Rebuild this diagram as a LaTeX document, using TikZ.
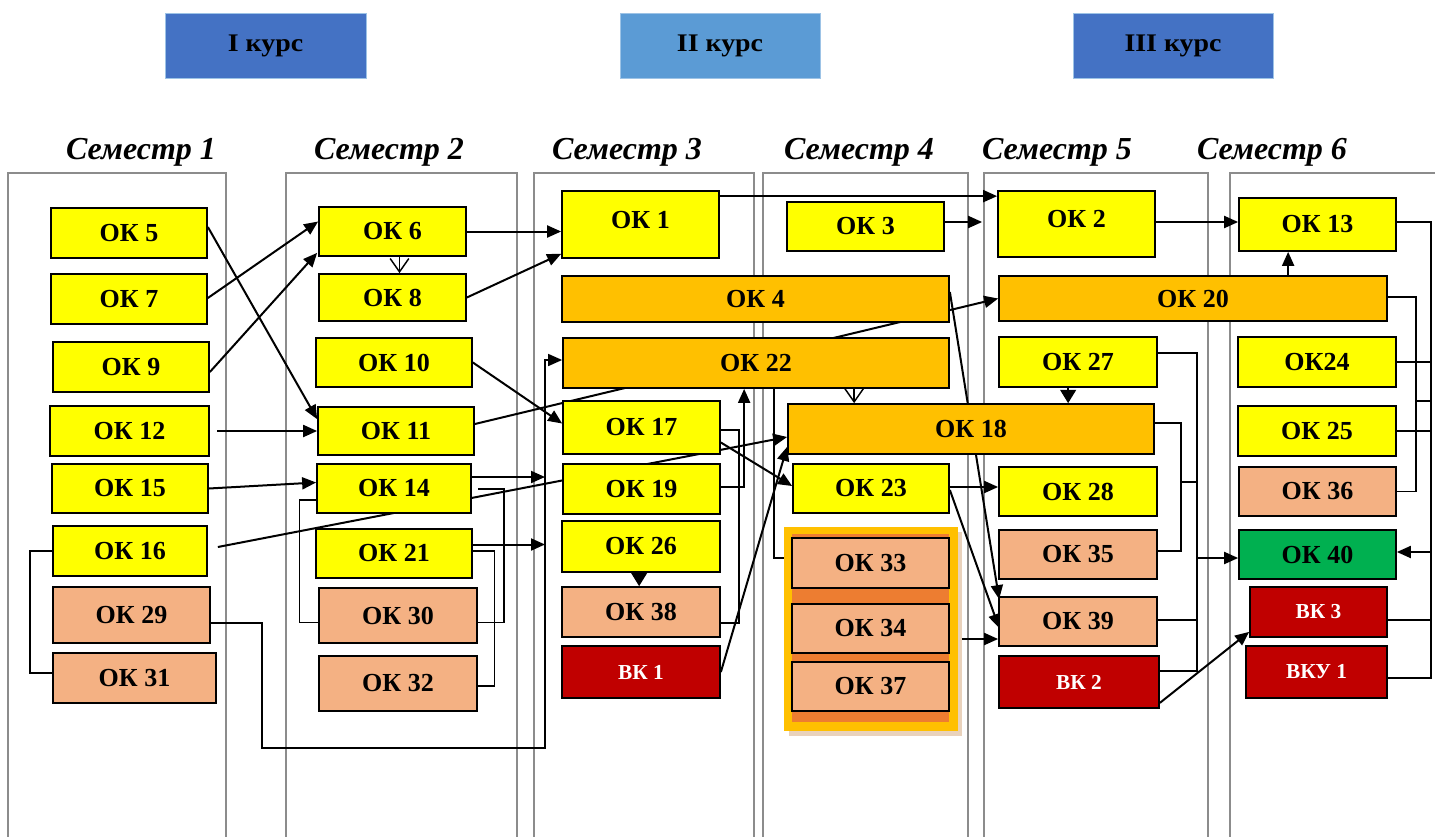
\documentclass[tikz,border=0pt]{standalone}
\usepackage{fontspec}
\setmainfont{Liberation Serif}
\usetikzlibrary{arrows.meta,calc}

\definecolor{okyellow}{RGB}{255,255,0}
\definecolor{okorange}{RGB}{255,192,0}
\definecolor{oksalmon}{RGB}{244,177,131}
\definecolor{vkred}{RGB}{192,0,0}
\definecolor{okgreen}{RGB}{0,176,80}
\definecolor{kursblue}{RGB}{68,114,196}
\definecolor{kurslight}{RGB}{91,155,213}
\definecolor{frameorange}{RGB}{237,125,49}
\definecolor{semgray}{RGB}{140,140,140}

\pgfdeclarelayer{bg}
\pgfsetlayers{bg,main}

\tikzset{sz/.style 2 args={minimum width=#1*0.75pt,minimum height=#2*0.75pt}}

\begin{document}
\begin{tikzpicture}[x=0.75pt,y=0.75pt,yscale=-1,xscale=1,
  box/.style={draw=black,line width=1.3pt,inner sep=0pt,font=\fontsize{19.5}{20}\selectfont\bfseries},
  ok/.style={box,fill=okyellow},
  okc/.style={box,fill=okorange},
  oks/.style={box,fill=oksalmon},
  okg/.style={box,fill=okgreen},
  vk/.style={box,fill=vkred,text=white,font=\fontsize{16}{17}\selectfont\bfseries},
  thickbox/.style={line width=2.2pt},
  kurs/.style={inner sep=0pt,draw=kurslight!60!white,line width=0.6pt,font=\fontsize{19}{20}\selectfont\bfseries},
  semtitle/.style={inner sep=0pt,font=\fontsize{24}{25}\selectfont\bfseries\itshape},
  semcol/.style={draw=semgray,line width=1.8pt},
  arr/.style={line width=1.5pt,-{Triangle[length=10.5pt,width=9pt]}},
  arrs/.style={line width=1pt,-{Triangle[length=10pt,width=12pt]}},
  barb/.style={line width=1.1pt,-{Straight Barb[length=10pt,width=14pt]}},
  lnk/.style={line width=1.2pt}]
        \useasboundingbox (0,0) rectangle (1435,836);

        % Course headers
        \node[kurs, fill=kursblue, sz={201}{65}] (kurs1) at (265.5,45.5) {\scalebox{1.1}[1]{I курс}};
        \node[kurs, fill=kurslight, sz={200}{65}] (kurs2) at (720,45.5) {\scalebox{1.1}[1]{II курс}};
        \node[kurs, fill=kursblue, sz={200}{65}] (kurs3) at (1173,45.5) {\scalebox{1.1}[1]{III курс}};

        % Semester titles
        \node[semtitle] (sem1) at (141,152) {Семестр 1};
        \node[semtitle] (sem2) at (389,152) {Семестр 2};
        \node[semtitle] (sem3) at (627,152) {Семестр 3};
        \node[semtitle] (sem4) at (859,152) {Семестр 4};
        \node[semtitle] (sem5) at (1057,152) {Семестр 5};
        \node[semtitle] (sem6) at (1272,152) {Семестр 6};

        %Shape: semester columns
        \begin{pgfonlayer}{bg}
        \draw[semcol] (8,173) rectangle (226,850);
        \draw[semcol] (286,173) rectangle (517,850);
        \draw[semcol] (534,173) rectangle (754,850);
        \draw[semcol] (763,173) rectangle (968,850);
        \draw[semcol] (984,173) rectangle (1208,850);
        \draw[semcol] (1230,173) rectangle (1450,850);
        \end{pgfonlayer}

        % Semester 1
        \node[ok, sz={156}{50}] (ok5) at (129,233) {ОК 5};
        \node[ok, sz={156}{50}] (ok7) at (129,299) {ОК 7};
        \node[ok, sz={156}{50}] (ok9) at (131,367) {ОК 9};
        \node[ok, thickbox, sz={159}{50}] (ok12) at (129.5,431) {ОК 12};
        \node[ok, sz={156}{49}] (ok15) at (130,488.5) {ОК 15};
        \node[ok, sz={154}{50}] (ok16) at (130,551) {ОК 16};
        \node[oks, thickbox, sz={157}{56}] (ok29) at (131.5,615) {ОК 29};
        \node[oks, sz={163}{50}] (ok31) at (134.5,678) {ОК 31};

        % Semester 2
        \node[ok, sz={147}{49}] (ok6) at (392.5,231.5) {ОК 6};
        \node[ok, sz={147}{47}] (ok8) at (392.5,297.5) {ОК 8};
        \node[ok, sz={156}{49}] (ok10) at (394,362.5) {ОК 10};
        \node[ok, sz={156}{48}] (ok11) at (396,431) {ОК 11};
        \node[ok, sz={154}{49}] (ok14) at (394,488.5) {ОК 14};
        \node[ok, sz={156}{49}] (ok21) at (394,553.5) {ОК 21};
        \node[oks, thickbox, sz={158}{55}] (ok30) at (398,615.5) {ОК 30};
        \node[oks, thickbox, sz={158}{55}] (ok32) at (398,683.5) {ОК 32};

        % Semester 3
        \node[ok, sz={157}{67}, text depth=7pt] (ok1) at (640.5,224.5) {ОК 1};
        \node[okc, sz={387}{46}] (ok4) at (755.5,299) {ОК 4};
        \node[okc, sz={386}{50}] (ok22) at (756,363) {ОК 22};
        \node[ok, sz={157}{53}] (ok17) at (641.5,427.5) {ОК 17};
        \node[ok, sz={157}{50}] (ok19) at (641.5,489) {ОК 19};
        \node[ok, sz={158}{51}] (ok26) at (641,546.5) {ОК 26};
        \node[oks, sz={158}{50}] (ok38) at (641,612) {ОК 38};
        \node[vk, sz={158}{52}] (vk1) at (641,672) {ВК 1};

        % Semester 4
        \node[ok, sz={157}{49}] (ok3) at (865.5,226.5) {ОК 3};
        \node[okc, sz={366}{50}] (ok18) at (971,429) {ОК 18};
        \node[ok, sz={156}{49}] (ok23) at (871,488.5) {ОК 23};
        %Shape: group frame
        \fill[brown!35] (789,532) rectangle (962,736);
        \fill[okorange] (784,527) rectangle (958,731);
        \fill[frameorange] (792,534) rectangle (949,722);
        \node[oks, sz={157}{50}] (ok33) at (870.5,563) {ОК 33};
        \node[oks, sz={157}{49}] (ok34) at (870.5,628.5) {ОК 34};
        \node[oks, sz={157}{49}] (ok37) at (870.5,686.5) {ОК 37};

        % Semester 5
        \node[ok, sz={157}{66}, text depth=7pt] (ok2) at (1076.5,224) {ОК 2};
        \node[okc, sz={388}{45}] (ok20) at (1193,298.5) {ОК 20};
        \node[ok, sz={158}{50}] (ok27) at (1078,362) {ОК 27};
        \node[ok, sz={158}{49}] (ok28) at (1078,491.5) {ОК 28};
        \node[oks, sz={158}{49}] (ok35) at (1078,554.5) {ОК 35};
        \node[oks, sz={158}{49}] (ok39) at (1078,621.5) {ОК 39};
        \node[vk, sz={160}{52}] (vk2) at (1079,682) {ВК 2};

        % Semester 6
        \node[ok, sz={157}{53}] (ok13) at (1317.5,224.5) {ОК 13};
        \node[ok, sz={158}{50}] (ok24) at (1317,362) {ОК24};
        \node[ok, sz={158}{50}] (ok25) at (1317,431) {ОК 25};
        \node[oks, sz={157}{49}] (ok36) at (1317.5,491.5) {ОК 36};
        \node[okg, sz={157}{49}] (ok40) at (1317.5,554.5) {ОК 40};
        \node[vk, sz={137}{50}] (vk3) at (1318.5,612) {ВК 3};
        \node[vk, sz={141}{52}] (vku1) at (1316.5,672) {ВКУ 1};

        % Bus corners
        \coordinate (bus29) at (262,748);
        \coordinate (bus22) at (545,748);
        \coordinate (busA) at (1180,482);
        \coordinate (busB) at (1196,482);
        \coordinate (busC) at (1416,401);
        \coordinate (busD) at (1431,401);
        \coordinate (s14) at ($(ok14.east)+(0,-11.5)$);
        \coordinate (s21) at ($(ok21.east)+(0,-9)$);
        \coordinate (s20) at ($(ok20.north west)+(290,0)$);
        \coordinate (s39) at ($(ok39.east)+(0,-1.5)$);
        \coordinate (t40) at ($(ok40.west)+(0,3.5)$);
        \coordinate (t40b) at ($(ok40.east)+(0,-2.5)$);

        \begin{pgfonlayer}{bg}
        %Straight Lines: semester 1
        \draw[arr] ($(ok5.east)+(0,-6)$) -- ($(ok11.north west)+(0,13)$);
        \draw[arr] ($(ok7.east)+(0,-1)$) -- ($(ok6.west)+(0,-10)$);
        \draw[arr] ($(ok9.east)+(0,5)$) -- ($(ok6.south west)+(-1,-4)$);
        \draw[arr] ($(ok12.east)+(7,0)$) -- (ok11.west);
        \draw[arr] (ok15.east) -- ($(ok14.west)+(0,-6)$);
        \draw[arr] ($(ok16.east)+(10,-4)$) -- ($(ok18.west)+(0,8)$);
        \draw[lnk] (ok16.west) -| ($(ok31.west)+(-22,-5)$) -- ($(ok31.west)+(0,-5)$);
        \draw[arr,lnk] ($(ok29.east)+(0,8)$) -| (bus29) -- (bus22) |- ($(ok22.west)+(0,-3)$);

        %Straight Lines: semester 2
        \draw[barb] ($(ok6.south)+(7,0)$) -- ($(ok8.north)+(7,0)$);
        \draw[arr] (ok6.east) -- (ok6.east -| ok1.west);
        \draw[arr] (ok8.east) -- ($(ok1.south west)+(0,-5)$);
        \draw[arr] (ok10.east) -- ($(ok17.west)+(0,-4)$);
        \draw[arr] ($(ok11.east)+(0,-7)$) -- (ok20.west);
        \draw[arr] (s14) -- (s14 -| bus22);
        \draw[arr] (s21) -- (s21 -| bus22);
        \draw[lnk] ($(ok30.east)+(0,7)$) -| ($(ok14.east)+(32,0.5)$) -- ($(ok14.east)+(6,0.5)$);
        \draw[lnk] ($(ok14.west)+(0,11.5)$) -| ($(ok30.west)+(-18,7)$) -- ($(ok30.west)+(0,7)$);
        \draw[lnk] ($(ok21.east)+(0,-2.5)$) -| ($(ok32.east)+(16,2.5)$) -- ($(ok32.east)+(0,2.5)$);

        %Straight Lines: semester 3
        \draw[lnk] ($(ok17.east)+(0,2.5)$) -| ($(ok38.east)+(18,11)$) -- ($(ok38.east)+(0,11)$);
        \draw[arr] ($(ok19.east)+(0,-2)$) -| ($(ok22.south west)+(182,0)$);
        \draw[arr] ($(ok17.east)+(0,15)$) -- ($(ok23.west)+(0,-2.5)$);
        \draw[arr] (vk1.east) -- ($(ok18.south west)+(0,-8)$);
        \draw[arrs] ($(ok26.south west)+(78,0)$) -- ($(ok38.north west)+(78,0)$);
        \draw[arr] ($(ok1.north east)+(0,6)$) -- ($(ok2.north west)+(0,6)$);

        %Straight Lines: semester 4
        \draw[lnk] ($(ok22.south west)+(212,0)$) |- ($(ok33.west)+(0,-5)$);
        \draw[barb] ($(ok22.south west)+(292,0)$) -- ($(ok18.north west)+(67,0)$);
        \draw[arr] ($(ok3.east)+(0,-4.5)$) -- ($(ok3.east -| ok2.west)+(-15,-4.5)$);
        \draw[arr] ($(ok4.east)+(0,-7)$) -- ($(ok39.north west)+(1,3)$);
        \draw[arr] ($(ok23.east)+(0,1.5)$) -- ($(ok39.west)+(1,6.5)$);
        \draw[arr] ($(ok23.east)+(0,-1.5)$) -- ($(ok23.east -| ok28.west)+(0,-1.5)$);
        \draw[arr] ($(ok34.east)+(5,10.5)$) -- ($(ok34.east -| ok39.west)+(0,10.5)$);

        %Straight Lines: semester 5
        \draw[arr] ($(ok2.east)+(0,-2)$) -- ($(ok2.east -| ok13.west)+(0,-2)$);
        \draw[arr] (s20) -- (s20 |- ok13.south);
        \draw[arrs] ($(ok27.south west)+(70,0)$) -- ($(ok18.north west)+(281,0)$);
        \draw[lnk] ($(ok18.east)+(0,-6)$) -| ($(ok35.east)+(23,-3.5)$) -- ($(ok35.east)+(0,-3.5)$);
        \draw[lnk] (busA) -- (busB);
        \draw[lnk] ($(ok27.east)+(0,-9)$) -| ($(vk2.east)+(37,-11)$) -- ($(vk2.east)+(0,-11)$);
        \draw[lnk] (s39) -- (s39 -| busB);
        \draw[arr] (t40 -| busB) -- (t40);
        \draw[arr] ($(vk2.south east)+(0,-6)$) -- ($(vk3.south west)+(0,-6)$);

        %Straight Lines: semester 6
        \draw[lnk] ($(ok20.east)+(0,-1.5)$) -| (busC |- ok36.east) -- (ok36.east);
        \draw[lnk] (busC) -- (busD);
        \draw[lnk] ($(ok13.east)+(0,-2.5)$) -| ($(vku1.east -| busD)+(0,6)$) -- ($(vku1.east)+(0,6)$);
        \draw[lnk] (ok24.east) -- (ok24.east -| busD);
        \draw[lnk] (ok25.east) -- (ok25.east -| busD);
        \draw[lnk] ($(vk3.east)+(0,8)$) -- ($(vk3.east -| busD)+(0,8)$);
        \draw[arr] (t40b -| busD) -- (t40b);
        \end{pgfonlayer}

\end{tikzpicture}
\end{document}
